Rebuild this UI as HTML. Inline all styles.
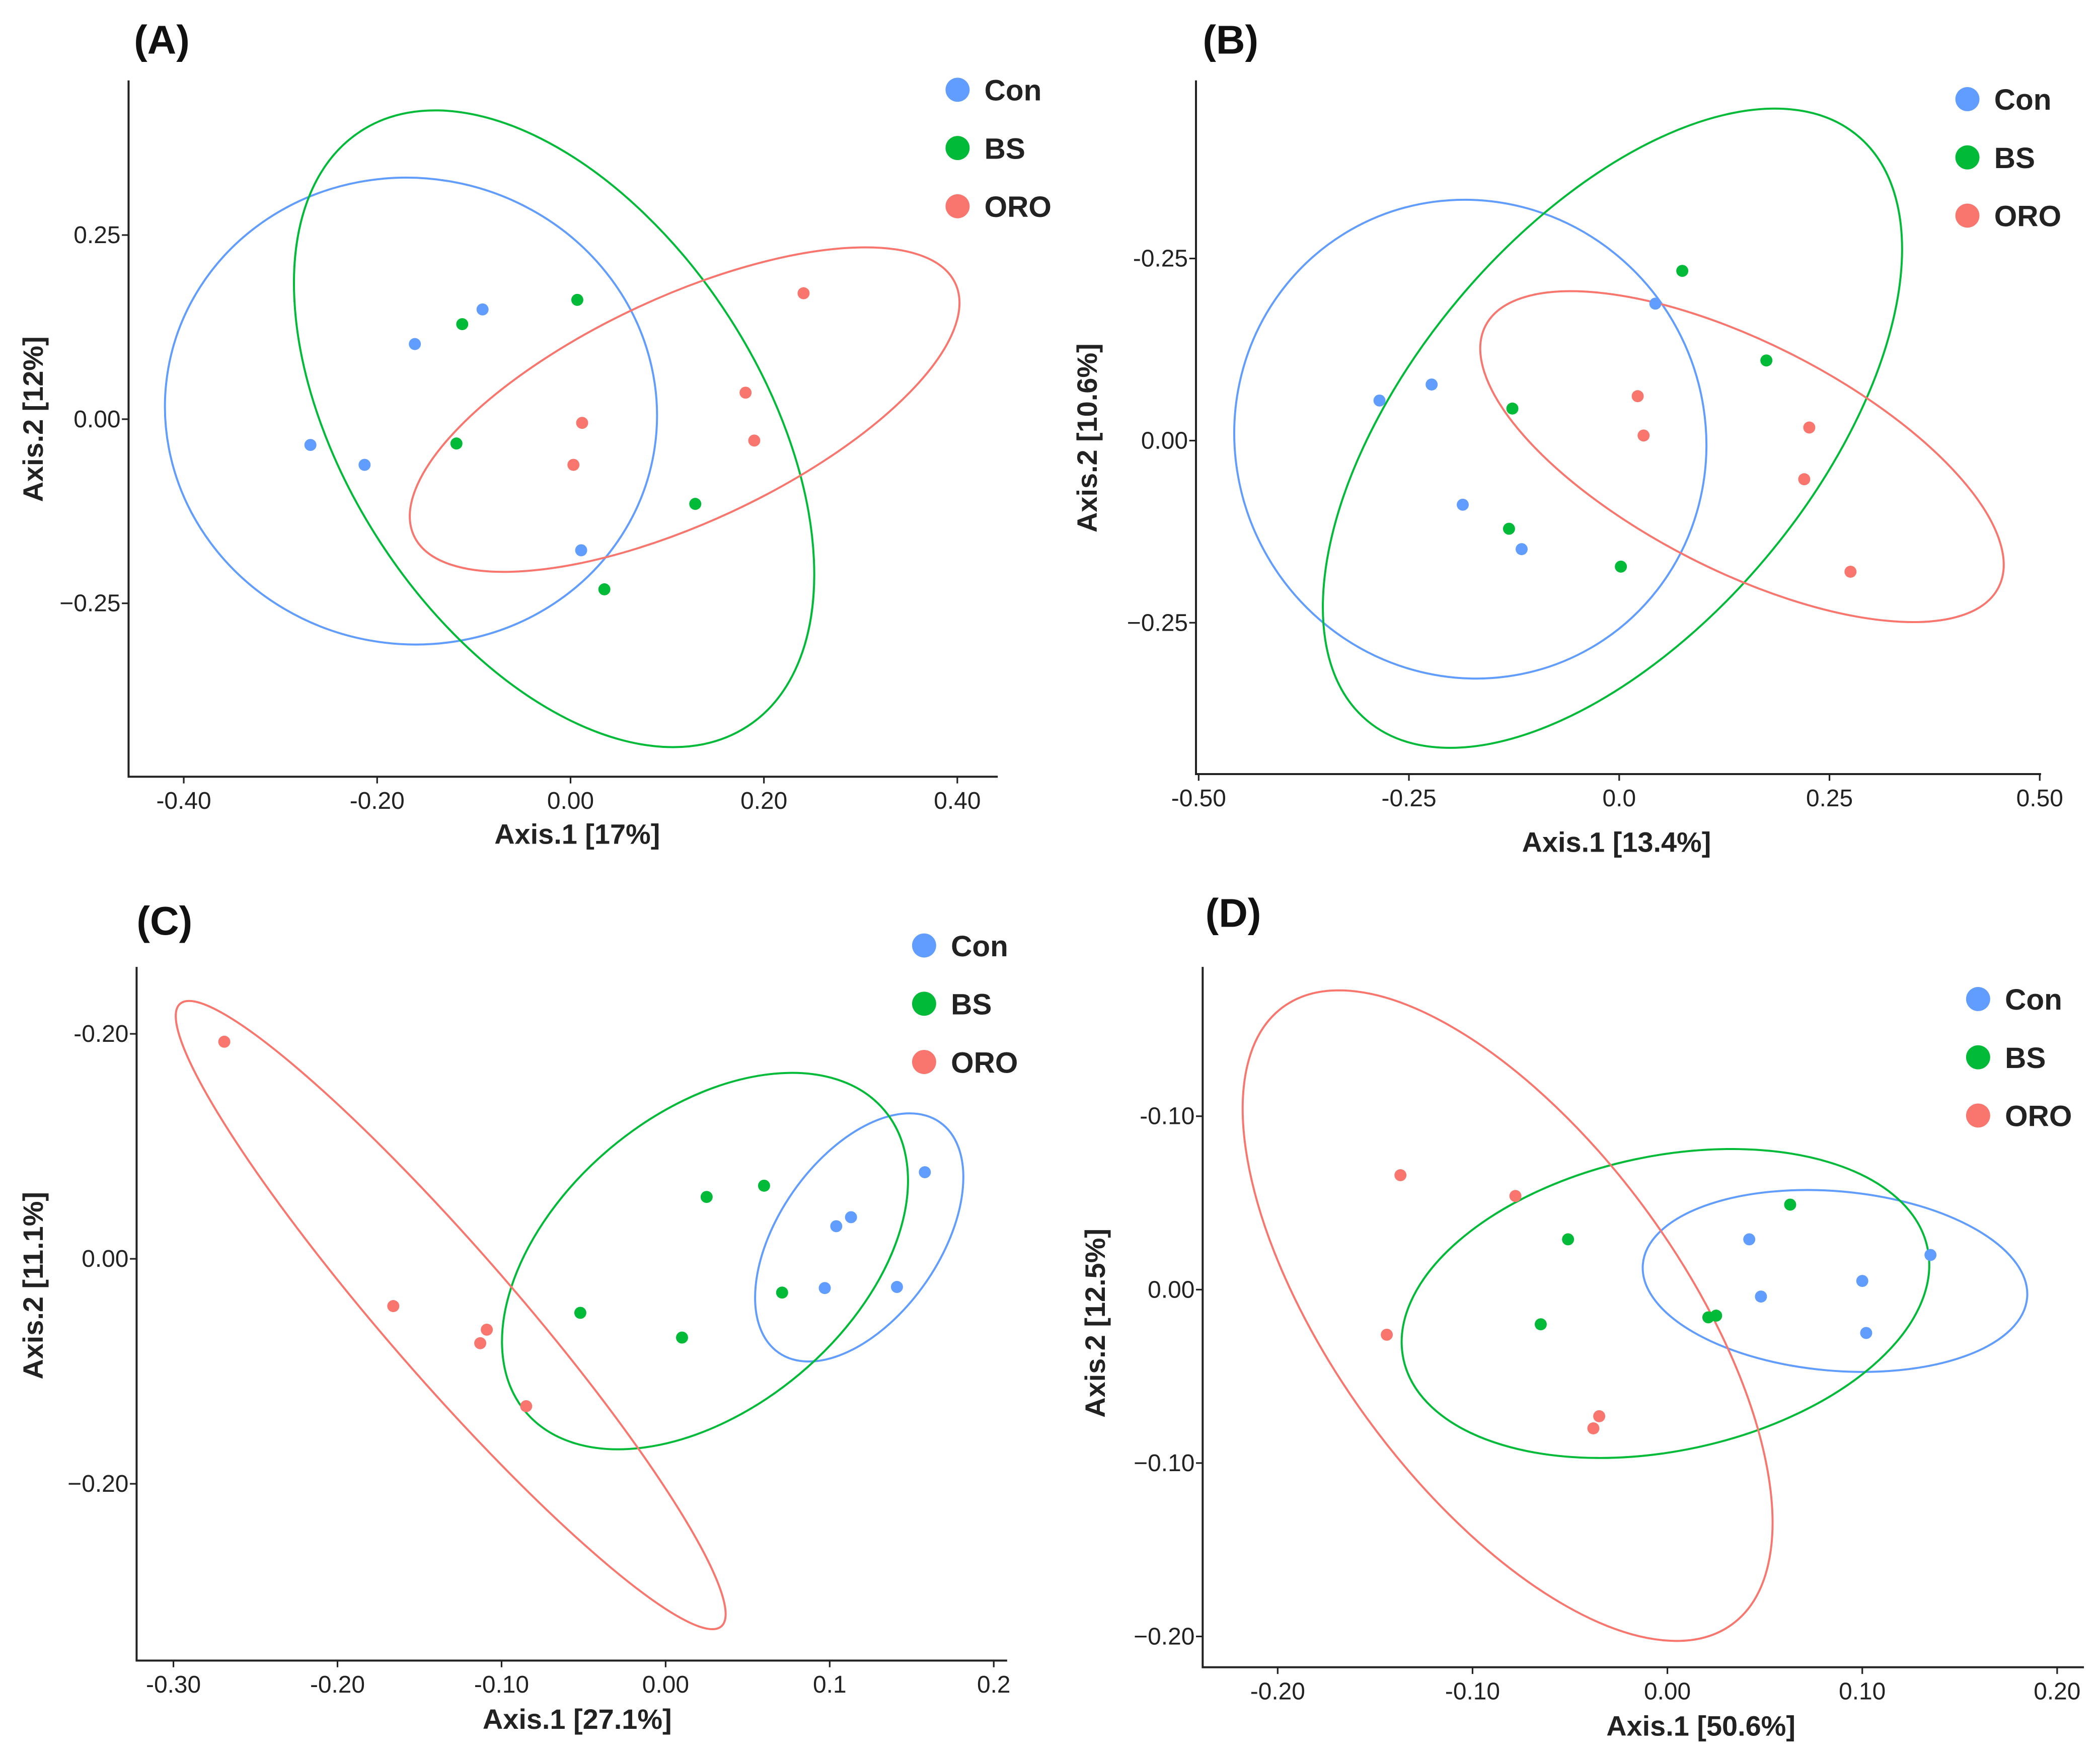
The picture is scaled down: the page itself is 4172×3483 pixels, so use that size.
<!DOCTYPE html>
<html><head><meta charset="utf-8">
<style>
html,body{margin:0;padding:0;background:#fff;}
svg{display:block;font-family:"Liberation Sans",sans-serif;}
.tick{font-size:18px;fill:#222;}
.title{font-size:21px;font-weight:bold;fill:#222;}
.leg{font-size:22px;font-weight:bold;fill:#222;}
.plab{font-size:30px;font-weight:bold;fill:#111;}
</style></head>
<body>
<svg id="chart" xmlns="http://www.w3.org/2000/svg" width="4172" height="3483" viewBox="0 0 1568 1309"></svg>
<script>
// ---------- Panel A data ----------
const aCon = [[-0.269,-0.035],[-0.213,-0.062],[-0.161,0.102],[-0.091,0.149],[0.011,-0.178]];
const aBS  = [[-0.112,0.129],[0.007,0.162],[-0.118,-0.033],[0.129,-0.115],[0.035,-0.231]];
const aORO = [[0.241,0.171],[0.181,0.036],[0.190,-0.029],[0.012,-0.005],[0.003,-0.062]];
const aXTicks = [-0.4,-0.2,0,0.2,0.4];
const aXLabels = ["-0.40","-0.20","0.00","0.20","0.40"];
const aYTicks = [0.25,0,-0.25];
const aYLabels = ["0.25","0.00","\u22120.25"];
const aEllCenters = [[-0.165,0.011],[-0.017,-0.013],[0.118,0.013]];
// ---------- Panel B data ----------
const bCon = [[-0.285,0.055],[-0.223,0.077],[0.043,0.188],[-0.186,-0.088],[-0.116,-0.149]];
const bBS  = [[0.075,0.233],[0.175,0.110],[-0.127,0.044],[-0.131,-0.121],[0.002,-0.173]];
const bORO = [[0.022,0.061],[0.029,0.007],[0.226,0.018],[0.220,-0.053],[0.275,-0.180]];
const bXTicks = [-0.5,-0.25,0,0.25,0.5];
const bXLabels = ["-0.50","-0.25","0.0","0.25","0.50"];
const bYTicks = [0.25,0,-0.25];
const bYLabels = ["-0.25","0.00","\u22120.25"];
const bEllCenters = [[-0.177,0.002],[-0.008,0.017],[0.146,-0.022]];
// ---------- Panel C data ----------
const cCon = [[0.158,0.077],[0.113,0.037],[0.104,0.029],[0.097,-0.026],[0.141,-0.025]];
const cBS  = [[0.025,0.055],[0.060,0.065],[-0.052,-0.048],[0.010,-0.070],[0.071,-0.030]];
const cORO = [[-0.269,0.193],[-0.166,-0.042],[-0.113,-0.075],[-0.109,-0.063],[-0.085,-0.131]];
const cXTicks = [-0.3,-0.2,-0.1,0,0.1,0.2];
const cXLabels = ["-0.30","-0.20","-0.10","0.00","0.1","0.2"];
const cYTicks = [0.2,0,-0.2];
const cYLabels = ["-0.20","0.00","\u22120.20"];
const cEllCenters = [[0.118,0.019],[0.024,-0.002],[-0.131,-0.050]];
// ---------- Panel D data ----------
const dCon = [[0.135,0.020],[0.042,0.029],[0.048,-0.004],[0.100,0.005],[0.102,-0.025]];
const dBS  = [[0.063,0.049],[-0.051,0.029],[-0.065,-0.020],[0.021,-0.016],[0.025,-0.015]];
const dORO = [[-0.137,0.066],[-0.078,0.054],[-0.144,-0.026],[-0.035,-0.073],[-0.038,-0.080]];
const dXTicks = [-0.2,-0.1,0,0.1,0.2];
const dXLabels = ["-0.20","-0.10","0.00","0.10","0.20"];
const dYTicks = [0.1,0,-0.1,-0.2];
const dYLabels = ["-0.10","0.00","\u22120.10","\u22120.20"];
const dEllCenters = [[0.086,0.005],[-0.001,-0.008],[-0.082,-0.015]];

const groups = ["Con","BS","ORO"];
const colors = {Con:"#619CFF",BS:"#00BA38",ORO:"#F8766D"};
const NS = "http://www.w3.org/2000/svg";
const svg = document.getElementById("chart");

function mk(tag, attrs, parent){
  const e = document.createElementNS(NS, tag);
  for (const k in attrs) e.setAttribute(k, attrs[k]);
  (parent||svg).appendChild(e);
  return e;
}

const panels = [
 {id:"a", label:"(A)", lab:[100,40], x0:96, x1:745, yTop:60, yBot:580, ox:426, sx:722, oy:313, sy:550,
  pts:{Con:aCon,BS:aBS,ORO:aORO}, xt:aXTicks, xl:aXLabels, yt:aYTicks, yl:aYLabels,
  ellC:{Con:aEllCenters[0],BS:aEllCenters[1],ORO:aEllCenters[2]},
  ellS:{Con:[184,174,10],BS:[265,155,57],ORO:[223,84,-25]},
  xt_title:"Axis.1 [17%]", xtp:[431,630], yt_title:"Axis.2 [12%]", ytp:[32,313], leg:[715,67]},
 {id:"b", label:"(B)", lab:[898,40], x0:893, x1:1524, yTop:60, yBot:578, ox:1209, sx:628, oy:329, sy:544,
  pts:{Con:bCon,BS:bBS,ORO:bORO}, xt:bXTicks, xl:bXLabels, yt:bYTicks, yl:bYLabels,
  ellC:{Con:bEllCenters[0],BS:bEllCenters[1],ORO:bEllCenters[2]},
  ellS:{Con:[180,175,60],BS:[285,150,-50],ORO:[215,85,27]},
  xt_title:"Axis.1 [13.4%]", xtp:[1207,636], yt_title:"Axis.2 [10.6%]", ytp:[819,327], leg:[1469,74]},
 {id:"c", label:"(C)", lab:[102,698], x0:102, x1:752, yTop:722, yBot:1240, ox:497, sx:1225, oy:940, sy:840,
  pts:{Con:cCon,BS:cBS,ORO:cORO}, xt:cXTicks, xl:cXLabels, yt:cYTicks, yl:cYLabels,
  ellC:{Con:cEllCenters[0],BS:cEllCenters[1],ORO:cEllCenters[2]},
  ellS:{Con:[105,60,-55],BS:[175,110,-40],ORO:[308,48,49]},
  xt_title:"Axis.1 [27.1%]", xtp:[431,1291], yt_title:"Axis.2 [11.1%]", ytp:[32,960], leg:[690,706]},
 {id:"d", label:"(D)", lab:[900,692], x0:898, x1:1556, yTop:722, yBot:1245, ox:1245, sx:1455, oy:963, sy:1295,
  pts:{Con:dCon,BS:dBS,ORO:dORO}, xt:dXTicks, xl:dXLabels, yt:dYTicks, yl:dYLabels,
  ellC:{Con:dEllCenters[0],BS:dEllCenters[1],ORO:dEllCenters[2]},
  ellS:{Con:[144,67,5],BS:[200,110,-12],ORO:[285,130,54]},
  xt_title:"Axis.1 [50.6%]", xtp:[1270,1296], yt_title:"Axis.2 [12.5%]", ytp:[825,988], leg:[1477,746]}
];

panels.forEach(p => {
  const X = v => p.ox + v*p.sx;
  const Y = v => p.oy - v*p.sy;
  const g = mk("g", {});
  
  

  const pl = mk("text", {x:p.lab[0], y:p.lab[1], class:"plab"}, g);
  pl.textContent = p.label;
  
  

  const ax = mk("path", {d:`M${p.x0},${p.yTop} L${p.x0},${p.yBot} L${p.x1},${p.yBot}`, fill:"none", stroke:"#222", "stroke-width":1.5}, g);
  
  

  p.xt.forEach((v,i) => {
    const t = mk("line", {x1:X(v), x2:X(v), y1:p.yBot, y2:p.yBot+5, stroke:"#222", "stroke-width":1.2}, g);
    
    
    const tx = mk("text", {x:X(v), y:p.yBot+24, "text-anchor":"middle", class:"tick"}, g);
    tx.textContent = p.xl[i];
    
    
  });
  p.yt.forEach((v,i) => {
    const t = mk("line", {x1:p.x0-5, x2:p.x0, y1:Y(v), y2:Y(v), stroke:"#222", "stroke-width":1.2}, g);
    
    
    const tx = mk("text", {x:p.x0-6, y:Y(v)+6, "text-anchor":"end", class:"tick"}, g);
    tx.textContent = p.yl[i];
    
    
  });

  const xt = mk("text", {x:p.xtp[0], y:p.xtp[1], "text-anchor":"middle", class:"title"}, g);
  xt.textContent = p.xt_title;
  
  
  const yt = mk("text", {x:p.ytp[0], y:p.ytp[1], "text-anchor":"middle", class:"title", transform:`rotate(-90 ${p.ytp[0]} ${p.ytp[1]})`}, g);
  yt.textContent = p.yt_title;
  
  

  groups.forEach(k => {
    const c = p.ellC[k], s = p.ellS[k];
    const cx = X(c[0]), cy = Y(c[1]);
    const e = mk("ellipse", {cx:cx, cy:cy, rx:s[0], ry:s[1], transform:`rotate(${s[2]} ${cx} ${cy})`, fill:"none", stroke:colors[k], "stroke-width":1.5}, g);
    
    
  });
  groups.forEach(k => {
    p.pts[k].forEach(pt => {
      const c = mk("circle", {cx:X(pt[0]), cy:Y(pt[1]), r:4.5, fill:colors[k]}, g);
      
      
    });
  });
  groups.forEach((k,i) => {
    const ly = p.leg[1] + i*43.5;
    const lc = mk("circle", {cx:p.leg[0], cy:ly, r:9, fill:colors[k]}, g);
    
    
    const lt = mk("text", {x:p.leg[0]+20, y:ly+8, class:"leg"}, g);
    lt.textContent = k;
    
    
  });
});
</script>
</body></html>
